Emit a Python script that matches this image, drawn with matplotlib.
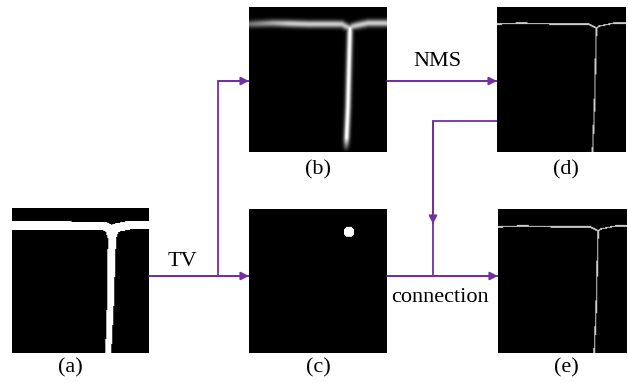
import numpy as np
import matplotlib
matplotlib.use("Agg")
import matplotlib.pyplot as plt
from matplotlib.patches import FancyArrowPatch

W, H = 628, 384
PURPLE = "#7030A0"
plt.rcParams["font.family"] = ["Liberation Serif", "DejaVu Serif"]

# crack centre lines (pixel coords inside a 138x145 tile)
crack_h_x = [0, 24, 60, 93, 101, 104, 119, 138]
crack_h_y = [18, 17, 18, 18, 22, 20, 17, 17]
crack_v_x = [101, 100, 99, 97]
crack_v_y = [22, 60, 100, 145]
blob_xy = (100, 23)
blob_r = 5.5

# panel boxes in figure pixels: (left, top, right, bottom)
panels = {
    "a": (12, 208, 149, 353),
    "b": (249, 7, 387, 152),
    "c": (249, 209, 387, 353),
    "d": (497, 7, 626, 152),
    "e": (498, 209, 626, 353),
}
labels = {"a": (70, 368), "b": (318, 170), "c": (318, 368), "d": (566, 170), "e": (566, 368)}

TW, TH = 138, 145
yy, xx = np.mgrid[0:TH, 0:TW] + 0.5


def seg_dist(x0, y0, x1, y1):
    dx, dy = x1 - x0, y1 - y0
    t = np.clip(((xx - x0) * dx + (yy - y0) * dy) / (dx * dx + dy * dy), 0, 1)
    return np.hypot(xx - (x0 + t * dx), yy - (y0 + t * dy))


def poly_dist(px, py):
    d = np.full(xx.shape, np.inf)
    for i in range(len(px) - 1):
        d = np.minimum(d, seg_dist(px[i], py[i], px[i + 1], py[i + 1]))
    return d


dh = poly_dist(crack_h_x, crack_h_y)
dv = poly_dist(crack_v_x, crack_v_y)

# (a) binary segmentation mask
width_v = 4.4 - 1.4 * (yy / TH) + 2.0 * np.exp(-((yy - 24) / 4) ** 2)
img_a = ((dh < 4.5) | (dv < width_v)).astype(float)

# (b) tensor-voting saliency
sal_h = 0.8 * np.exp(-(dh / 3.6) ** 2) * np.clip(0.55 + xx / 90, 0, 1)
sal_v = np.exp(-(dv / 3.0) ** 2) * np.clip((TH - yy) / 14, 0, 1)
img_b = np.maximum(sal_h, sal_v)
img_b *= 1 - 0.6 * np.exp(-((xx - 100) ** 2 + (yy - 12) ** 2) / 30)

# (c) junction point
img_c = (np.hypot(xx - blob_xy[0], yy - blob_xy[1]) < blob_r).astype(float)

# (d)/(e) thinned crack, right edge cropped
img_d = 0.8 * (np.minimum(dh, dv) < 0.7)
img_d = img_d[:, :131]
img_e = img_d[:, :130].copy()

images = {"a": img_a, "b": img_b, "c": img_c, "d": img_d, "e": img_e}

fig = plt.figure(figsize=(W / 100, H / 100), dpi=100)

for key, (x0, y0, x1, y1) in panels.items():
    ax = fig.add_axes([x0 / W, 1 - y1 / H, (x1 - x0) / W, (y1 - y0) / H])
    ax.imshow(images[key], cmap="gray", vmin=0, vmax=1, aspect="auto",
              interpolation="bilinear")
    ax.set_axis_off()

ov = fig.add_axes([0, 0, 1, 1], zorder=5)
ov.set_xlim(0, W)
ov.set_ylim(H, 0)
ov.set_axis_off()


def path(xs, ys, arrow=True):
    ov.plot(xs, ys, color=PURPLE, lw=1.3, solid_capstyle="butt")
    if arrow:
        ov.add_patch(FancyArrowPatch((xs[-2], ys[-2]), (xs[-1], ys[-1]),
                                     arrowstyle="-|>", mutation_scale=12,
                                     color=PURPLE, lw=1.3, shrinkA=0, shrinkB=0))


path([149, 249], [276, 276])
path([218, 218, 249], [276, 81, 81])
path([387, 497], [81, 81])
path([497, 433, 433], [121, 121, 224])
ov.plot([433, 433], [224, 276], color=PURPLE, lw=1.3)
path([387, 498], [276, 276])

fs = 16
ov.text(182, 262, "TV", ha="center", va="center", fontsize=fs)
ov.text(437, 62, "NMS", ha="center", va="center", fontsize=fs)
ov.text(440, 297, "connection", ha="center", va="center", fontsize=fs)
for key, (lx, ly) in labels.items():
    ov.text(lx, ly, f"({key})", ha="center", va="center", fontsize=fs)

fig.savefig("out.png", dpi=100)
